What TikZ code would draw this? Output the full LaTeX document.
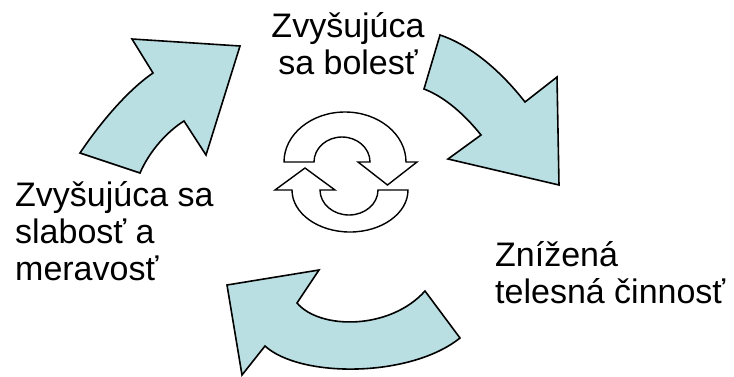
\documentclass[tikz,border=0pt]{standalone}
\usepackage{fontspec}
\setmainfont{Liberation Sans}
\definecolor{arrfill}{RGB}{185,223,227}
\begin{document}
\begin{tikzpicture}[x=1pt,y=-1pt,
  blockarrow/.style={fill=arrfill,draw=black,line width=1.6pt,line join=miter},
  cyclearrow/.style={fill=white,draw=black,line width=1.4pt,line join=miter},
  lbl/.style={font=\fontsize{34}{37}\selectfont,inner sep=0pt}]
\path[use as bounding box] (0,0) rectangle (734,376);
% top-left arrow
\draw[blockarrow] (80,153) .. controls (100,123) and (128,90) .. (153,73)
  -- (132,39) -- (240,46) -- (206,155) -- (184,121)
  .. controls (168,131) and (150,150) .. (140,173) -- cycle;
% top-right arrow
\draw[blockarrow] (440,35) .. controls (470,45) and (500,70) .. (525,102)
  -- (557,77) -- (559,185) -- (448,159) -- (481,135)
  .. controls (465,115) and (445,97) .. (424,89) -- cycle;
% bottom arrow
\draw[blockarrow] (227,285) -- (319,270) -- (297,303)
  .. controls (320,330) and (390,330) .. (425,291)
  -- (460,338)
  .. controls (410,378) and (300,378) .. (265,346)
  -- (242,375) -- cycle;
% central cycle symbol: upper arrow
\draw[cyclearrow] (284,162) .. controls (284,134.4) and (311.3,112) .. (345,112)
  .. controls (378.7,112) and (406,134.4) .. (406,162)
  -- (417,162) -- (387.5,185) -- (358,162) -- (370,162)
  .. controls (370,148.2) and (357.5,137) .. (342,137)
  .. controls (326.5,137) and (314,148.2) .. (314,162) -- cycle;
% lower arrow
\draw[cyclearrow] (292,190) .. controls (292,213.2) and (318,232) .. (350,232)
  .. controls (382,232) and (408,213.2) .. (408,190)
  -- (378,190)
  .. controls (378,203.8) and (365,215) .. (349,215)
  .. controls (333,215) and (320,203.8) .. (320,190)
  -- (335,190) -- (305,168) -- (275,190) -- cycle;
% labels
\node[lbl,anchor=base] (pain) at (348,37.3)
  {\begin{tabular}[t]{@{}c@{}}Zvyšujúca\\sa bolesť\end{tabular}};
\node[lbl,anchor=base west] (activity) at (495,266.7)
  {\begin{tabular}[t]{@{}l@{}}Znížená\\telesná činnosť\end{tabular}};
\node[lbl,anchor=base west] (weak) at (15,206.5)
  {\begin{tabular}[t]{@{}l@{}}Zvyšujúca sa\\slabosť a\\meravosť\end{tabular}};
\end{tikzpicture}
\end{document}
